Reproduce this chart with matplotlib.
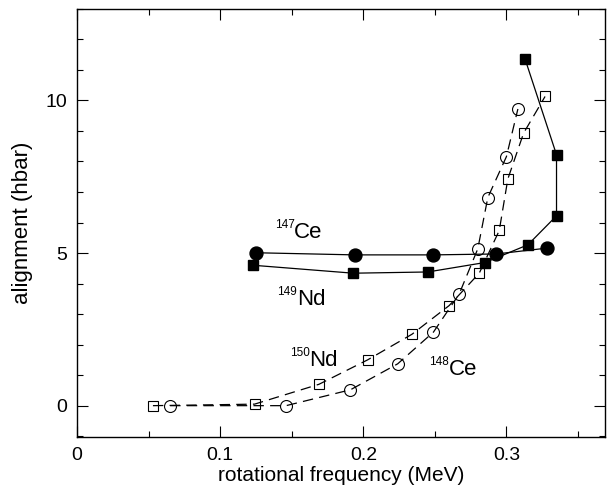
import matplotlib
matplotlib.use("Agg")
import matplotlib.pyplot as plt
from matplotlib.ticker import MultipleLocator

plt.rcParams['font.family'] = ['Liberation Sans', 'DejaVu Sans']
plt.rcParams['lines.scale_dashes'] = False

# 147Ce - filled circles, solid line
ce147_x = [0.125, 0.194, 0.249, 0.293, 0.328]
ce147_y = [5.01, 4.94, 4.94, 4.97, 5.16]

# 149Nd - filled squares, solid line
nd149_x = [0.123, 0.193, 0.245, 0.285, 0.315, 0.335, 0.335, 0.313]
nd149_y = [4.60, 4.34, 4.38, 4.69, 5.27, 6.22, 8.22, 11.36]

# 148Ce - open circles, dashed line
ce148_x = [0.065, 0.146, 0.191, 0.224, 0.249, 0.267, 0.280, 0.287, 0.300, 0.308]
ce148_y = [0.0, 0.0, 0.52, 1.37, 2.41, 3.66, 5.14, 6.82, 8.16, 9.72]

# 150Nd - open squares, dashed line
nd150_x = [0.053, 0.124, 0.169, 0.203, 0.234, 0.260, 0.281, 0.295, 0.301, 0.312, 0.327]
nd150_y = [0.0, 0.05, 0.70, 1.50, 2.34, 3.28, 4.34, 5.74, 7.43, 8.93, 10.13]

# nucleus labels: mass number, element, anchor (left edge / baseline)
labels = [
    ('147', 'Ce', 0.138, 5.49),
    ('149', 'Nd', 0.140, 3.30),
    ('150', 'Nd', 0.1485, 1.30),
    ('148', 'Ce', 0.246, 1.01),
]

fig = plt.figure(figsize=(6.07, 4.93), dpi=100)
ax = fig.add_axes([0.127, 0.114, 0.870, 0.868])

ax.plot(ce147_x, ce147_y, '-', color='black', lw=0.9,
        marker='o', ms=9.3, mfc='black', mec='black')
ax.plot(nd149_x, nd149_y, '-', color='black', lw=0.9,
        marker='s', ms=7.6, mfc='black', mec='black')
ax.plot(ce148_x, ce148_y, color='black', lw=0.9, dashes=(7.5, 4.5),
        marker='o', ms=8.6, mfc='none', mec='black', mew=0.8)
ax.plot(nd150_x, nd150_y, color='black', lw=0.9, dashes=(7.5, 4.5),
        marker='s', ms=7.6, mfc='none', mec='black', mew=0.8)

for mass, elem, x, y in labels:
    ax.annotate(mass, (x, y), xytext=(0, 7), textcoords='offset points',
                fontsize=8.5, ha='left', va='baseline')
    ax.annotate(elem, (x, y), xytext=(14, 0), textcoords='offset points',
                fontsize=16, ha='left', va='baseline')

ax.set_xlim(0, 0.369)
ax.set_ylim(-1.02, 13.0)
ax.xaxis.set_minor_locator(MultipleLocator(0.05))
ax.yaxis.set_major_locator(MultipleLocator(5))
ax.yaxis.set_minor_locator(MultipleLocator(1))
ax.set_xticks([0, 0.1, 0.2, 0.3])
ax.set_xticklabels(['0', '0.1', '0.2', '0.3'])
ax.tick_params(which='both', direction='in', top=True, right=True,
               labelsize=14, width=0.8)
ax.tick_params(which='major', length=8, pad=7)
ax.tick_params(which='minor', length=4)
for s in ax.spines.values():
    s.set_linewidth(1.0)

ax.set_xlabel('rotational frequency (MeV)', fontsize=15, labelpad=2)
ax.set_ylabel('alignment (hbar)', fontsize=16, labelpad=9)

fig.savefig('out.png', dpi=100)
